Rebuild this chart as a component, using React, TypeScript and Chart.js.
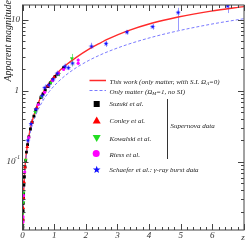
import { useEffect, useRef } from 'react';
import { Chart, registerables } from 'chart.js';
Chart.register(...registerables);

// ---- curves (z, luminosity distance) ----
const curveZ = [0.01, 0.02, 0.04, 0.07, 0.1, 0.15, 0.2, 0.3, 0.45, 0.64, 0.85, 1.1, 1.375, 1.7, 2.1, 2.42, 2.73, 3.3, 4.08, 4.92, 5.96, 7.0];
const thisWorkD = [0.0101, 0.0203, 0.041, 0.074, 0.107, 0.166, 0.228, 0.365, 0.59, 0.93, 1.3, 1.78, 2.3, 2.95, 3.85, 4.6, 5.4, 6.9, 8.9, 10.9, 13.2, 15.3];
const onlyMatterD = [0.01, 0.0201, 0.0406, 0.0713, 0.1024, 0.156, 0.2093, 0.3208, 0.4918, 0.7187, 0.9797, 1.3017, 1.6678, 2.1137, 2.6788, 3.1414, 3.597, 4.452, 5.652, 6.974, 8.644, 10.343];

// ---- supernova data ----
const suzukiZ = [0.012, 0.015, 0.02, 0.025, 0.03, 0.035, 0.045, 0.06, 0.08, 0.1, 0.125, 0.16, 0.2, 0.25, 0.3, 0.36, 0.42, 0.5, 0.58, 0.65, 0.72, 0.8, 0.88, 0.95, 1.03, 1.12, 1.3];
const suzukiD = [0.0121, 0.0152, 0.0205, 0.026, 0.031, 0.036, 0.047, 0.062, 0.085, 0.105, 0.137, 0.175, 0.225, 0.29, 0.36, 0.44, 0.54, 0.66, 0.8, 0.9, 1.02, 1.15, 1.29, 1.42, 1.59, 1.72, 2.12];
const conleyZ = [0.011, 0.015, 0.022, 0.03, 0.05, 0.08, 0.15, 0.3, 0.45, 0.6, 0.8, 1.0];
const conleyD = [0.0112, 0.0155, 0.0225, 0.031, 0.052, 0.084, 0.162, 0.36, 0.58, 0.84, 1.16, 1.55];
const kowalskiZ = [0.012, 0.018, 0.026, 0.036, 0.1, 0.4, 0.6, 0.9, 1.15, 1.56];
const kowalskiD = [0.0129, 0.019, 0.027, 0.037, 0.107, 0.5, 0.82, 1.3, 1.72, 2.85];
const kowalskiLo = [0, 0, 0, 0, 0, 0, 0, 0, 1.6, 2.21];
const kowalskiHi = [0, 0, 0, 0, 0, 0, 0, 0, 1.85, 3.3];
const riessZ = [0.014, 0.017, 0.033, 0.07, 0.2, 0.5, 0.7, 0.95, 1.14, 1.3, 1.76, 1.76];
const riessD = [0.0143, 0.0168, 0.0334, 0.072, 0.22, 0.64, 0.95, 1.4, 1.77, 2.0, 2.43, 2.7];
const riessLo = [0, 0, 0, 0, 0, 0, 0, 0, 0, 0, 2.3, 2.55];
const riessHi = [0, 0, 0, 0, 0, 0, 0, 0, 0, 0, 2.56, 2.9];

// ---- gamma-ray burst data ----
const grbZ = [0.17, 0.27, 0.43, 0.62, 0.7, 0.83, 0.97, 1.1, 1.34, 1.45, 1.58, 2.18, 2.64, 3.3, 4.11, 4.92, 6.48];
const grbD = [0.2, 0.34, 0.55, 0.85, 1.1, 1.2, 1.45, 1.75, 2.2, 2.1, 2.43, 4.2, 4.59, 6.66, 7.95, 12.6, 15.5];
const grbLo = [0.17, 0.278, 0.47, 0.75, 0.98, 1.08, 1.32, 1.6, 2.02, 1.95, 2.21, 3.92, 4.14, 6.17, 7.23, 7.16, 12.4];
const grbHi = [0.24, 0.4, 0.64, 0.96, 1.23, 1.33, 1.6, 1.92, 2.4, 2.28, 2.85, 4.74, 5.0, 7.16, 8.67, 14.7, 16.4];

// ---- axes ----
const xTicks = [0, 1, 2, 3, 4, 5, 6];
const xTickLabels = ['0', '1', '2', '3', '4', '5', '6'];
const xMax = 7;
const yMin = 0.011;
const yMax = 16.1;

const SERIF = '"Liberation Serif", "DejaVu Serif", serif';

function starPath(ctx: CanvasRenderingContext2D, cx: number, cy: number, R: number) {
  const r = R * 0.42;
  ctx.beginPath();
  for (let i = 0; i < 10; i++) {
    const a = -Math.PI / 2 + (i * Math.PI) / 5;
    const rr = i % 2 === 0 ? R : r;
    const px = cx + rr * Math.cos(a);
    const py = cy + rr * Math.sin(a);
    if (i === 0) ctx.moveTo(px, py);
    else ctx.lineTo(px, py);
  }
  ctx.closePath();
}

function makeStar(size: number, R: number, color: string) {
  const c = document.createElement('canvas');
  c.width = size;
  c.height = size;
  const g = c.getContext('2d')!;
  g.fillStyle = color;
  starPath(g, size / 2, size / 2, R);
  g.fill();
  return c;
}

type Part = [string, 'n' | 'sub' | 'sup'];
function drawRich(ctx: CanvasRenderingContext2D, x: number, y: number, parts: Part[], size: number) {
  let cx = x;
  for (const [t, k] of parts) {
    if (k === 'n') {
      ctx.font = `italic ${size}px ${SERIF}`;
      ctx.fillText(t, cx, y);
    } else {
      ctx.font = `italic ${size * 0.7}px ${SERIF}`;
      ctx.fillText(t, cx, y + (k === 'sub' ? size * 0.3 : -size * 0.4));
    }
    cx += ctx.measureText(t).width;
  }
}

const decorPlugin = {
  id: 'decor',
  beforeDatasetsDraw(chart: any) {
    const ctx = chart.ctx as CanvasRenderingContext2D;
    const xs = chart.scales.x;
    const ys = chart.scales.y;
    const a = chart.chartArea;
    ctx.save();
    ctx.beginPath();
    ctx.rect(a.left, a.top, a.right - a.left, a.bottom - a.top);
    ctx.clip();
    ctx.lineWidth = 1;
    const bars = (zs: number[], lo: number[], hi: number[], color: string) => {
      ctx.strokeStyle = color;
      zs.forEach((z, i) => {
        if (!lo[i] || !hi[i]) return;
        const px = Math.round(xs.getPixelForValue(z)) + 0.5;
        ctx.beginPath();
        ctx.moveTo(px, ys.getPixelForValue(lo[i]));
        ctx.lineTo(px, ys.getPixelForValue(hi[i]));
        ctx.stroke();
      });
    };
    bars(grbZ, grbLo, grbHi, '#9a9aff');
    bars(kowalskiZ, kowalskiLo, kowalskiHi, '#7de07d');
    bars(riessZ, riessLo, riessHi, '#ffb0ff');
    ctx.restore();
  },
  afterDraw(chart: any) {
    const ctx = chart.ctx as CanvasRenderingContext2D;
    const xs = chart.scales.x;
    const ys = chart.scales.y;
    const a = chart.chartArea;
    ctx.save();
    // frame
    ctx.strokeStyle = '#444';
    ctx.lineWidth = 1;
    ctx.strokeRect(a.left, a.top, a.right - a.left, a.bottom - a.top);
    // x ticks
    ctx.beginPath();
    for (let i = 0; i <= xMax * 5; i++) {
      const v = i / 5;
      const px = Math.round(xs.getPixelForValue(v)) + 0.5;
      const len = i % 5 === 0 ? 6 : 3;
      ctx.moveTo(px, a.bottom);
      ctx.lineTo(px, a.bottom - len);
      ctx.moveTo(px, a.top);
      ctx.lineTo(px, a.top + len);
    }
    // y ticks
    for (let e = -2; e <= 1; e++) {
      for (let k = 1; k <= 9; k++) {
        const v = k * Math.pow(10, e);
        if (v < yMin || v > yMax) continue;
        const py = Math.round(ys.getPixelForValue(v)) + 0.5;
        const len = k === 1 ? 6 : 3;
        ctx.moveTo(a.left, py);
        ctx.lineTo(a.left + len, py);
        ctx.moveTo(a.right, py);
        ctx.lineTo(a.right - len, py);
      }
    }
    ctx.stroke();

    // tick labels
    ctx.fillStyle = '#333';
    ctx.font = `italic 9px ${SERIF}`;
    ctx.textAlign = 'center';
    ctx.textBaseline = 'middle';
    xTicks.forEach((v, i) => {
      ctx.fillText(xTickLabels[i], xs.getPixelForValue(v), a.bottom + 6);
    });
    ctx.fillText('z', xs.getPixelForValue(xMax) - 1, a.bottom + 8);

    ctx.textAlign = 'right';
    ctx.fillText('10', 20, ys.getPixelForValue(10));
    ctx.fillText('1', 19, ys.getPixelForValue(1));
    ctx.textAlign = 'left';
    const p01 = ys.getPixelForValue(0.1);
    ctx.fillText('10', 6.5, p01);
    ctx.font = `italic 6px ${SERIF}`;
    ctx.fillText('-1', 15, p01 - 4);

    // y axis title
    ctx.save();
    ctx.translate(8, 0);
    ctx.rotate(-Math.PI / 2);
    ctx.textAlign = 'right';
    ctx.textBaseline = 'middle';
    ctx.font = `italic 10px ${SERIF}`;
    ctx.fillStyle = '#222';
    ctx.fillText('Apparent magnitude', 0, 0);
    ctx.restore();

    // legend
    const lx = 96.7;
    const tx = 109.5;
    const fs = 7;
    ctx.textAlign = 'left';
    ctx.textBaseline = 'middle';
    ctx.fillStyle = '#222';
    // row 1: red line
    ctx.strokeStyle = '#ff2a2a';
    ctx.lineWidth = 1.5;
    ctx.beginPath();
    ctx.moveTo(89.5, 80.5);
    ctx.lineTo(106, 80.5);
    ctx.stroke();
    drawRich(ctx, tx, 82, [['This work (only matter, with S.I. \u03A9', 'n'], ['\u039B', 'sub'], ['=0)', 'n']], fs);
    // row 2: blue dashed
    ctx.strokeStyle = '#7a7aff';
    ctx.lineWidth = 1;
    ctx.setLineDash([3, 2]);
    ctx.beginPath();
    ctx.moveTo(89.5, 90.5);
    ctx.lineTo(106, 90.5);
    ctx.stroke();
    ctx.setLineDash([]);
    drawRich(ctx, tx, 92, [['Only matter (\u03A9', 'n'], ['M', 'sub'], ['=1, no SI)', 'n']], fs);
    // row 3: black square
    ctx.fillStyle = '#000';
    ctx.fillRect(lx - 3, 104 - 3, 6, 6);
    ctx.fillStyle = '#222';
    drawRich(ctx, tx, 104, [['Suzuki et al.', 'n']], fs);
    // row 4: red triangle
    ctx.fillStyle = '#ff0000';
    ctx.beginPath();
    ctx.moveTo(lx, 120.5 - 4);
    ctx.lineTo(lx + 4, 120.5 + 3);
    ctx.lineTo(lx - 4, 120.5 + 3);
    ctx.closePath();
    ctx.fill();
    ctx.fillStyle = '#222';
    drawRich(ctx, tx, 121, [['Conley et al.', 'n']], fs);
    // row 5: green down triangle
    ctx.fillStyle = '#22dd22';
    ctx.beginPath();
    ctx.moveTo(lx, 138 + 4);
    ctx.lineTo(lx + 4, 138 - 3);
    ctx.lineTo(lx - 4, 138 - 3);
    ctx.closePath();
    ctx.fill();
    ctx.fillStyle = '#222';
    drawRich(ctx, tx, 139.5, [['Kowalski et al.', 'n']], fs);
    // row 6: magenta circle
    ctx.fillStyle = '#ff00ff';
    ctx.beginPath();
    ctx.arc(lx - 0.5, 153.5, 3.5, 0, Math.PI * 2);
    ctx.fill();
    ctx.fillStyle = '#222';
    drawRich(ctx, tx, 155, [['Riess et al.', 'n']], fs);
    // row 7: blue star
    ctx.fillStyle = '#1010ff';
    starPath(ctx, lx, 169.8, 4);
    ctx.fill();
    ctx.fillStyle = '#222';
    drawRich(ctx, tx, 170.5, [['Schaefer et al.: \u03B3-ray burst data', 'n']], fs);
    // bracket
    ctx.strokeStyle = '#333';
    ctx.lineWidth = 1;
    ctx.beginPath();
    ctx.moveTo(167.5, 99);
    ctx.lineTo(167.5, 159);
    ctx.stroke();
    drawRich(ctx, 170.5, 126.5, [['Supernova data', 'n']], fs);
    ctx.restore();
  },
};

export default function App() {
  const ref = useRef<HTMLCanvasElement>(null);
  useEffect(() => {
    if (!ref.current) return;
    const starImg = makeStar(6, 2.6, '#1010ff');
    const pts = (zs: number[], ds: number[]) => zs.map((z, i) => ({ x: z, y: ds[i] }));
    const chart = new Chart(ref.current, {
      type: 'scatter',
      data: {
        datasets: [
          { label: 'Schaefer', data: pts(grbZ, grbD), pointStyle: starImg as any, pointRadius: 3, backgroundColor: '#1010ff', borderColor: '#1010ff' },
          { label: 'Riess', data: pts(riessZ, riessD), pointStyle: 'circle', pointRadius: 1.6, borderWidth: 0, backgroundColor: '#ff00ff', borderColor: '#ff00ff' },
          { label: 'Kowalski', data: pts(kowalskiZ, kowalskiD), pointStyle: 'triangle', pointRotation: 180, pointRadius: 2.2, borderWidth: 0, backgroundColor: '#22dd22', borderColor: '#22dd22' },
          { label: 'Conley', data: pts(conleyZ, conleyD), pointStyle: 'triangle', pointRadius: 2.2, borderWidth: 0, backgroundColor: '#ff0000', borderColor: '#ff0000' },
          { label: 'Suzuki', data: pts(suzukiZ, suzukiD), pointStyle: 'rect', pointRadius: 2.0, borderWidth: 0, backgroundColor: '#000', borderColor: '#000' },
          { label: 'Only matter', data: pts(curveZ, onlyMatterD), showLine: true, pointRadius: 0, borderColor: '#7a7aff', borderWidth: 1, borderDash: [3, 2], cubicInterpolationMode: 'monotone' } as any,
          { label: 'This work', data: pts(curveZ, thisWorkD), showLine: true, pointRadius: 0, borderColor: '#ff2a2a', borderWidth: 1.4, cubicInterpolationMode: 'monotone' } as any,
        ],
      },
      options: {
        animation: false,
        responsive: false,
        maintainAspectRatio: false,
        events: [],
        layout: { padding: { left: 22.5, right: 2.3, top: 1, bottom: 19 } },
        plugins: { legend: { display: false }, tooltip: { enabled: false }, title: { display: false } },
        scales: {
          x: { type: 'linear', min: 0, max: xMax, display: false },
          y: { type: 'logarithmic', min: yMin, max: yMax, display: false },
        },
      },
      plugins: [decorPlugin],
    });
    return () => chart.destroy();
  }, []);
  return (
    <div style={{ position: 'absolute', left: 0, top: 0, width: 249, height: 249, background: '#fff' }}>
      <canvas ref={ref} width={249} height={249} style={{ display: 'block', width: 249, height: 249 }} />
    </div>
  );
}
